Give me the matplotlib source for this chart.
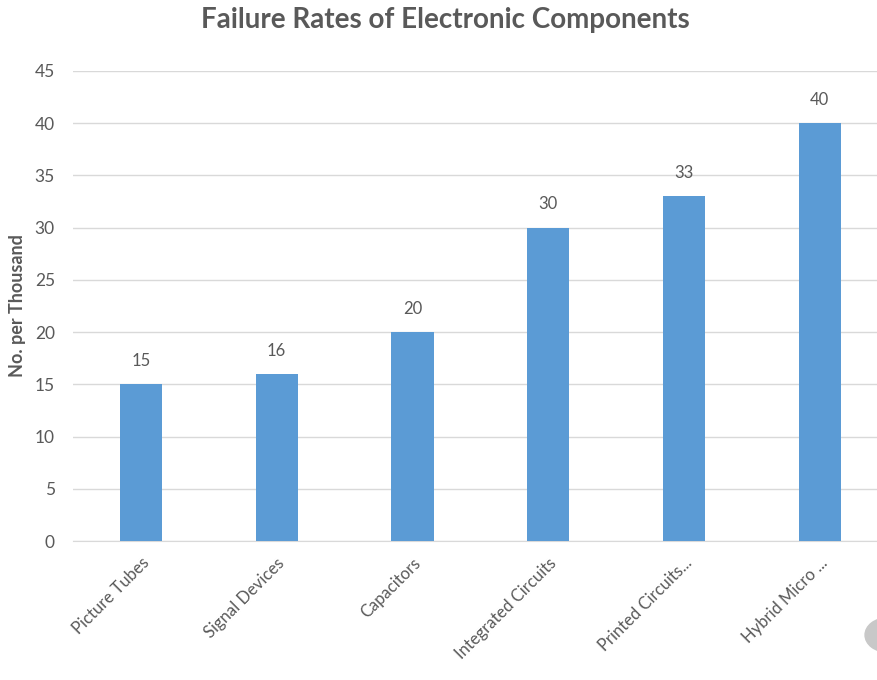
import matplotlib.pyplot as plt
from matplotlib.patches import Circle

components = ["Picture Tubes", "Signal Devices", "Capacitors",
              "Integrated Circuits", "Printed Circuits...", "Hybrid Micro ..."]
rates = [15, 16, 20, 30, 33, 40]
y_ticks = [0, 5, 10, 15, 20, 25, 30, 35, 40, 45]

plt.rcParams['font.family'] = ['Lato', 'DejaVu Sans']
text_color = '#595959'

fig = plt.figure(figsize=(8.78, 6.8), dpi=100)
ax = fig.add_axes([0.0831, 0.2044, 0.928, 0.6912])

x = range(len(components))
bars = ax.bar(x, rates, width=0.31, color='#5B9BD5', zorder=3)
ax.bar_label(bars, padding=11, fontsize=12, color=text_color)

ax.set_xlim(-0.5, 5.5)
ax.set_ylim(0, 45)
ax.set_yticks(y_ticks)
ax.tick_params(axis='y', length=0, pad=13, labelsize=12.5, labelcolor=text_color)
ax.tick_params(axis='x', length=0, pad=10, labelsize=12, labelcolor=text_color)
ax.set_xticks(list(x))
ax.set_xticklabels(components, rotation=45, ha='right', rotation_mode='anchor')
ax.grid(axis='y', color='#D9D9D9', linewidth=1, zorder=0)
for s in ['top', 'right', 'left']:
    ax.spines[s].set_visible(False)
ax.spines['bottom'].set_color('#D9D9D9')

ax.set_ylabel("No. per Thousand", fontsize=13, fontweight='bold', color=text_color, labelpad=6)
fig.suptitle("Failure Rates of Electronic Components", x=0.507, y=0.99,
             fontsize=20, fontweight='bold', color=text_color)

# grey round button in the corner of the screenshot
fig.patches.append(Circle((887 / 878, 1 - 635 / 680), 0.025, transform=fig.transFigure,
                          color='#C8C8C8', zorder=5))

fig.savefig("out.png", dpi=100)
